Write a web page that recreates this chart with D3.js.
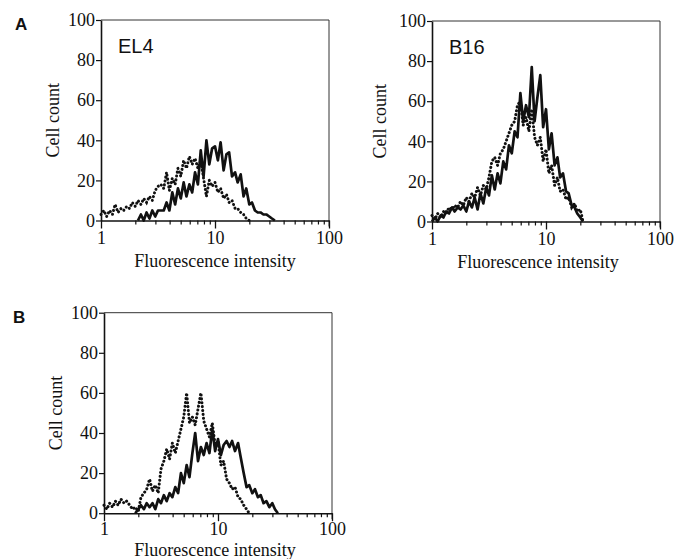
<!DOCTYPE html>
<html>
<head>
<meta charset="utf-8">
<script src="https://cdn.jsdelivr.net/npm/d3@7"></script>
<style>
body{margin:0;background:#fff}
svg{display:block}
.tick text{font-family:"Liberation Serif",serif;font-size:18px;fill:#111}
.title{font-family:"Liberation Serif",serif;font-size:18px;fill:#111}
.name{font-family:"Liberation Sans",Arial,sans-serif;font-size:20px;fill:#111}
.letter{font-family:"Liberation Sans",Arial,sans-serif;font-size:17px;font-weight:bold;fill:#111}
</style>
</head>
<body>
<div id="chart"></div>
<script>
// fluorescence channels (intensity) shared by all histograms
var channels = [1.00,1.06,1.12,1.19,1.26,1.33,1.41,1.50,1.58,1.68,1.78,1.88,
	2.00,2.11,2.24,2.37,2.51,2.66,2.82,2.99,3.16,3.35,3.55,3.76,
	3.98,4.22,4.47,4.73,5.01,5.31,5.62,5.96,6.31,6.68,7.08,7.50,7.94,8.41,8.91,9.44,
	10.0,10.6,11.2,11.9,12.6,13.3,14.1,15.0,15.8,16.8,17.8,18.8,20.0,21.1,22.4,23.7,25.1,26.6,28.2,29.9,31.6,33.5]

var yTicks = [0,20,40,60,80,100]
var xMajor = [1,10,100]
var xMinor = [2,3,4,5,6,7,8,9,20,30,40,50,60,70,80,90]

// panel A, EL4
var el4Solid = [null,null,null,null,null,null,null,null,null,null,null,null,null,
	0,3,0,4,1,5,2,5,5,5, 9,5,14,8,16,11,19,12,18,14, 24,18,35,22,40,28,36,37,30,39,
	25,33,34,22,24,19,23,12,16,8, 9,5,4,4,3,3,2,1,0]
var el4Dotted = [3,5,2,5,3,8,4,6,5,7, 6,9,7,10,8,11,9,12,10,15, 17,18,16,24,15,21,18,26,22,30,
	26,32,28,31,26,30,21,12,20,17, 19,14,16,11,13,9,10,6,6,4, 3,1,0,
	null,null,null,null,null,null,null,null,null]

// panel A, B16
var b16Solid = [0,2,0,3,2,5,4,7,5,7, 6,8,5,10,7,12,6,14,9,17, 13,23,16,24,19,30,26,38,34,45,
	42,64,50,58,52,77,50,62,73,47, 56,36,44,28,32,22,24,15,14,8, 7,4,2,0,
	null,null,null,null,null,null,null,null]
var b16Dotted = [3,1,4,2,5,4,7,6,8,7, 10,8,12,10,14,12,17,13,18,16, 22,30,32,28,34,36,40,44,48,50,
	58,60,48,52,45,56,42,38,42,30, 36,24,28,18,22,15,16,11,12,7, 9,5,6,0,
	null,null,null,null,null,null,null,null]

// panel B
var bSolid = [null,null,null,null,null,null,null,null,null,null,null,
	0,2,4,2,5,3,5,2,7, 5,9,6,10,8,13,10,20,15,24, 18,30,40,26,33,29,35,30,42,31,
	37,29,34,36,33,36,31,35,28,20, 13,14,10,12,8,9,5,6,3,5, 2,0]
var bDotted = [4,2,5,3,6,4,7,5,6,4, 2,3,1,8,10,12,17,11,14,10, 22,26,32,27,35,30,36,42,48,60,
	45,48,44,52,60,46,42,38,45,34, 36,24,26,17,15,12,13,8,7,4, 2,0,
	null,null,null,null,null,null,null,null,null,null]

var W = 228, H = 200.5

var panels = [
	{name:"EL4", left:101, top:20, solid:el4Solid, dotted:el4Dotted, yLabelX:-42, xLabelDx:0, xLabelY:46, tickPad:3},
	{name:"B16", left:432, top:21, solid:b16Solid, dotted:b16Dotted, yLabelX:-46, xLabelDx:-8, xLabelY:46, tickPad:3},
	{name:"", left:104, top:312.7, solid:bSolid, dotted:bDotted, yLabelX:-42, xLabelDx:-3, xLabelY:42.8, tickPad:1}
]

var svg = d3.select("#chart").append("svg").attr("width",675).attr("height",559)

svg.append("text").attr("class","letter").attr("x",15).attr("y",30).text("A")
svg.append("text").attr("class","letter").attr("x",13).attr("y",323).text("B")

panels.forEach(function(p){ drawPanel(p) })

function drawPanel(p){
	var x = d3.scaleLog().domain([1,100]).range([0,W])
	var y = d3.scaleLinear().domain([0,100]).range([H,0])
	var g = svg.append("g").attr("transform","translate("+p.left+","+p.top+")")

	// frame: top and right
	g.append("path")
		.attr("d","M0,0H"+W+"V"+(H+6))
		.attr("fill","none").attr("stroke","#333").attr("stroke-width",1)

	var minor = g.append("g").attr("transform","translate(0,"+H+")")
		.call(d3.axisBottom(x).tickValues(xMinor).tickSize(4).tickSizeOuter(0).tickFormat(""))
	minor.select(".domain").remove()
	minor.selectAll("line").attr("stroke","#111").attr("stroke-width",1.2)

	var major = g.append("g").attr("transform","translate(0,"+H+")")
		.call(d3.axisBottom(x).tickValues(xMajor).tickSize(8).tickSizeOuter(0).tickPadding(p.tickPad).tickFormat(d3.format("d")))
	major.select(".domain").attr("stroke","#111").attr("stroke-width",1.6)
	major.selectAll("line").attr("stroke","#111").attr("stroke-width",1.3)

	var yAxis = g.append("g")
		.call(d3.axisLeft(y).tickValues(yTicks).tickSize(5).tickSizeOuter(0).tickPadding(1))
	yAxis.select(".domain").attr("stroke","#111").attr("stroke-width",1.6)
	yAxis.selectAll("line").attr("stroke","#111").attr("stroke-width",1.2)

	var line = d3.line()
		.defined(function(d){ return d[1] != null })
		.x(function(d){ return x(d[0]) })
		.y(function(d){ return y(d[1]) })

	g.append("path")
		.datum(channels.map(function(c,i){ return [c,p.dotted[i]] }))
		.attr("d",line)
		.attr("fill","none").attr("stroke","#111").attr("stroke-width",3)
		.attr("stroke-linecap","round").attr("stroke-dasharray","0.1,3.8")

	g.append("path")
		.datum(channels.map(function(c,i){ return [c,p.solid[i]] }))
		.attr("d",line)
		.attr("fill","none").attr("stroke","#111").attr("stroke-width",2.7)
		.attr("stroke-linejoin","round")

	if(p.name){
		g.append("text").attr("class","name").attr("x",17).attr("y",33).text(p.name)
	}

	g.append("text").attr("class","title")
		.attr("transform","translate("+p.yLabelX+","+(H/2)+") rotate(-90)")
		.attr("text-anchor","middle")
		.text("Cell count")

	g.append("text").attr("class","title")
		.attr("x",W/2+p.xLabelDx).attr("y",H+p.xLabelY)
		.attr("text-anchor","middle")
		.text("Fluorescence intensity")
}
</script>
</body>
</html>
